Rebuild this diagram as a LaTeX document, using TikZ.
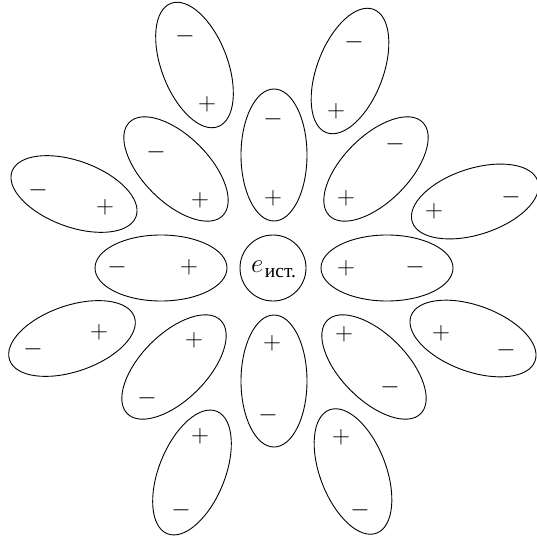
\documentclass[tikz,border=0pt]{standalone}
\usepackage{amsmath}
\usepackage{fontspec}
\newfontfamily\cyrfont{Liberation Serif}
\tikzset{
  dip/.style={line width=0.9pt},
  sgn/.style={inner sep=0pt, font=\Huge},
}
\newcommand{\dipole}[2]{\draw[dip, rotate around={#2:(#1)}] (#1) ellipse [x radius=66pt, y radius=33pt];}
\begin{document}
\begin{tikzpicture}[x=1pt,y=-1pt]
\useasboundingbox (0,0) rectangle (537,540);
% source
\node[circle, draw, dip, minimum size=66pt, inner sep=0pt] (src) at (273,268) {};
\node[inner sep=0pt, anchor=base west, font=\Huge] (srclbl) at (251,272)
  {\scalebox{1.085}{$e$}\kern1.5pt\raisebox{-5pt}{\cyrfont\fontsize{19.5}{22}\selectfont ист.}};
% inner ring centres
\coordinate (iT) at (274,155);
\coordinate (iB) at (274,381);
\coordinate (iL) at (161,268);
\coordinate (iR) at (387,268);
\coordinate (iUL) at (176,169);
\coordinate (iUR) at (376,169);
\coordinate (iLL) at (174,367);
\coordinate (iLR) at (374,367);
% outer ring centres
\coordinate (oTL) at (194.5,65);
\coordinate (oTR) at (350,71);
\coordinate (oLU) at (74,194);
\coordinate (oRU) at (475,201.5);
\coordinate (oLL) at (72,338.5);
\coordinate (oRL) at (473,338.5);
\coordinate (oBL) at (192,472.5);
\coordinate (oBR) at (353,471.5);
% inner dipoles
\dipole{iT}{90}
\dipole{iB}{90}
\dipole{iL}{0}
\dipole{iR}{0}
\dipole{iUL}{135}
\dipole{iUR}{45}
\dipole{iLL}{225}
\dipole{iLR}{-45}
% outer dipoles
\dipole{oTL}{111}
\dipole{oTR}{69}
\dipole{oLU}{160}
\dipole{oRU}{18}
\dipole{oLL}{199}
\dipole{oRL}{-20}
\dipole{oBL}{248}
\dipole{oBR}{291}
% signs, inner ring
\node[sgn] (iTm) at (273,119) {$-$};
\node[sgn] (iTp) at (273,198) {$+$};
\node[sgn] (iBp) at (272,343) {$+$};
\node[sgn] (iBm) at (268,415) {$-$};
\node[sgn] (iLm) at (117,267) {$-$};
\node[sgn] (iLp) at (189,267) {$+$};
\node[sgn] (iRp) at (346,268) {$+$};
\node[sgn] (iRm) at (415,267) {$-$};
\node[sgn] (iULm) at (156,152) {$-$};
\node[sgn] (iULp) at (200,200) {$+$};
\node[sgn] (iURp) at (346,198) {$+$};
\node[sgn] (iURm) at (395,144) {$-$};
\node[sgn] (iLLp) at (194,340) {$+$};
\node[sgn] (iLLm) at (147,398) {$-$};
\node[sgn] (iLRp) at (344,334) {$+$};
\node[sgn] (iLRm) at (390,387) {$-$};
% signs, outer ring
\node[sgn] (oTLm) at (185,36) {$-$};
\node[sgn] (oTLp) at (207,104) {$+$};
\node[sgn] (oTRm) at (354,42) {$-$};
\node[sgn] (oTRp) at (336,111) {$+$};
\node[sgn] (oLUm) at (38,190) {$-$};
\node[sgn] (oLUp) at (105,207) {$+$};
\node[sgn] (oRUp) at (434,211) {$+$};
\node[sgn] (oRUm) at (511,197) {$-$};
\node[sgn] (oLLp) at (99,332) {$+$};
\node[sgn] (oLLm) at (33,349) {$-$};
\node[sgn] (oRLp) at (441,333) {$+$};
\node[sgn] (oRLm) at (506,350) {$-$};
\node[sgn] (oBLp) at (200,436) {$+$};
\node[sgn] (oBLm) at (181,510) {$-$};
\node[sgn] (oBRp) at (341,437) {$+$};
\node[sgn] (oBRm) at (360,510) {$-$};
\end{tikzpicture}
\end{document}
